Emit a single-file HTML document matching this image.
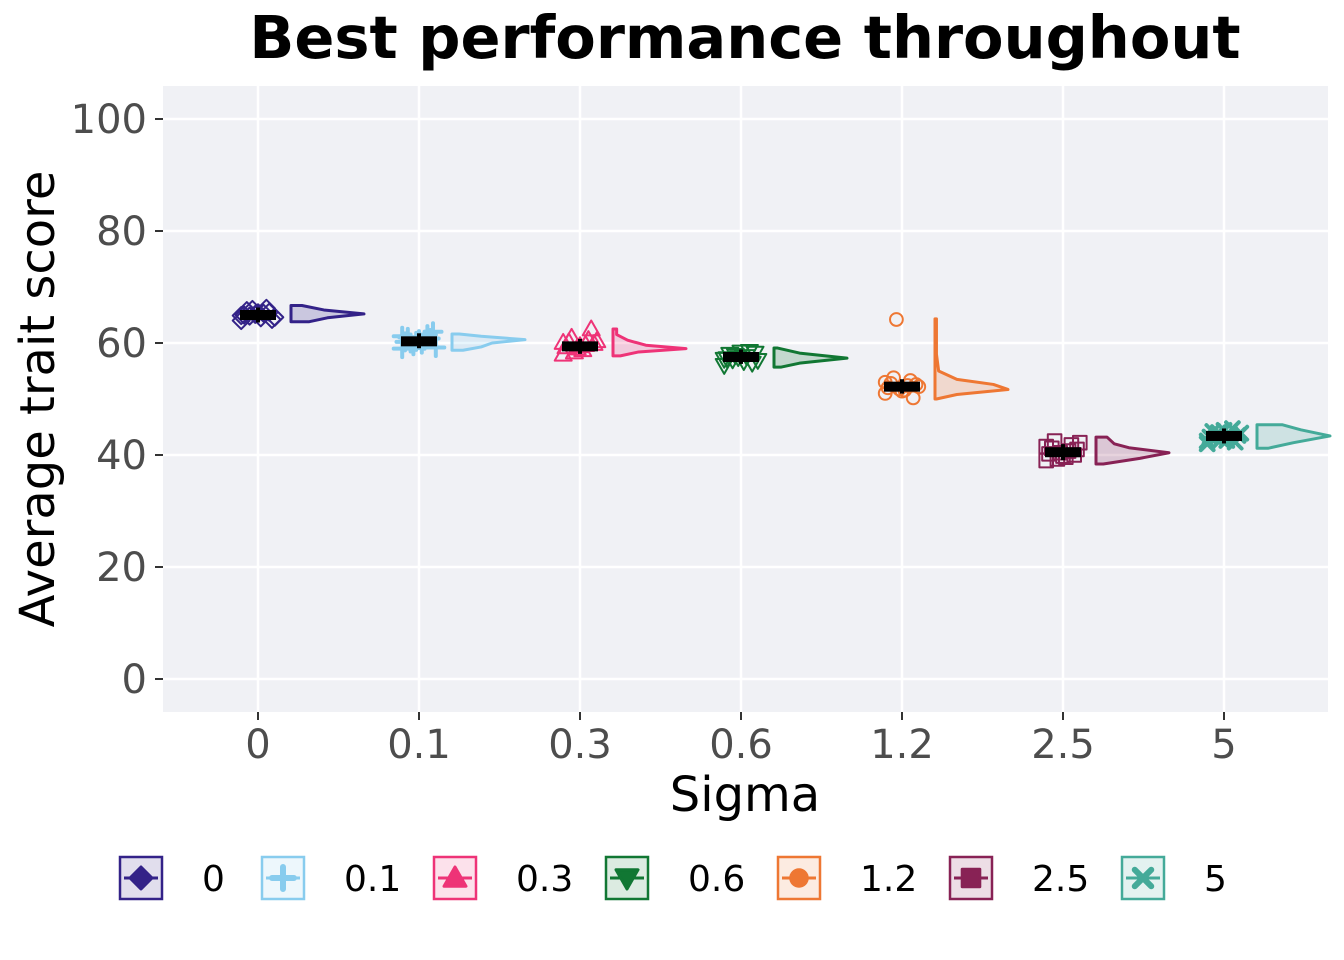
<!DOCTYPE html>
<html><head><meta charset="utf-8"><style>
body{margin:0;background:#fff;font-family:"DejaVu Sans","Liberation Sans",sans-serif}
svg{display:block}
</style></head><body>
<svg id="chart" width="1344" height="960" xmlns="http://www.w3.org/2000/svg">
<rect x="0" y="0" width="1344" height="960" fill="#fff"/>
<text x="745" y="58" text-anchor="middle" font-size="59" font-weight="bold" fill="#000" font-family="DejaVu Sans, Liberation Sans, sans-serif">Best performance throughout</text>
<rect x="163" y="86" width="1165" height="626" fill="#f0f1f5"/>
<g id="grid"></g>
<g id="marks"></g>
<g id="axes"></g>
<text x="745" y="811" text-anchor="middle" font-size="48" fill="#000" font-family="DejaVu Sans, Liberation Sans, sans-serif">Sigma</text>
<text transform="translate(54,399) rotate(-90)" text-anchor="middle" font-size="48" fill="#000" font-family="DejaVu Sans, Liberation Sans, sans-serif">Average trait score</text>
<g id="legend"></g>
</svg>
<script>
const categories=["0","0.1","0.3","0.6","1.2","2.5","5"];
const colors=["#332288","#88ccee","#ee3377","#117733","#ee7733","#882255","#44aa99"];
const shapes=["diamond","plus","tri","dtri","circle","square","x"];
const medians=[65,60.3,59.4,57.5,52.2,40.5,43.4];
const lows=[64.2,59.6,58.6,56.8,51.5,39.6,42.6];
const highs=[65.8,61.2,60.2,58.3,53,41.4,44.2];
const violins=[
 [[63.8,0.25],[64.5,0.5],[65.2,1],[65.9,0.45],[66.7,0.15]],
 [[58.7,0.15],[59.3,0.4],[60,0.55],[60.6,1],[61.2,0.4],[61.6,0.1]],
 [[57.7,0.1],[58.4,0.35],[59,1],[59.6,0.45],[60.5,0.2],[61.5,0.05],[62.5,0.05]],
 [[55.7,0.1],[56.4,0.35],[57.3,1],[58.2,0.35],[59.1,0.05]],
 [[50,0.02],[50.8,0.3],[51.7,1],[52.6,0.8],[53.5,0.3],[55,0.05],[58,0.02],[61,0.02],[64.3,0.02]],
 [[38.4,0.1],[39.4,0.6],[40.4,1],[41.3,0.45],[42,0.25],[42.6,0.2],[43.2,0.15]],
 [[41.2,0.15],[42.2,0.5],[43.4,1],[44.5,0.6],[45.4,0.35]]
];
const points=[
 [64,64.5,65,65.3,65.8,66.2,64.8,65.5,66,64.2,65.1,64.6,65.4,64.9],
 [59,59.8,60.2,60.5,61,61.5,60,60.8,59.5,62,60.3,59.2,60.6,61.2],
 [58,58.8,59.3,59.7,60.2,60.6,61,62.5,58.4,59.9,59.1,60.4,59.5,60.1],
 [56,56.7,57.2,57.6,58,58.5,57,56.4,57.8,58.2,57.4,56.9,58.4,57.1],
 [51,51.6,52,52.4,52.8,53.3,53.8,50.2,64.2,52.6,51.8,52.2,51.4,53],
 [39,39.6,40.2,40.7,41.2,41.8,42.5,40,39.3,41,40.4,42.2,39.8,41.5],
 [42,42.6,43.2,43.7,44.2,44.7,43,42.3,44,43.5,42.8,43.9,44.4,42.5]
];
const yTicks=[0,20,40,60,80,100];
const NS="http://www.w3.org/2000/svg";
const y=v=>679-v*5.6;
const x=i=>258+i*161;
function mk(p,t,a){const e=document.createElementNS(NS,t);for(const k in a)e.setAttribute(k,a[k]);p.appendChild(e);return e;}
function shape(p,s,cx,cy,r,col,fill,sw){
 let d;
 if(s==="diamond")d=`M${cx},${cy-r}L${cx+r},${cy}L${cx},${cy+r}L${cx-r},${cy}Z`;
 else if(s==="plus")d=`M${cx-r},${cy}H${cx+r}M${cx},${cy-r}V${cy+r}`;
 else if(s==="tri")d=`M${cx},${cy-r}L${cx+r},${cy+r*0.75}L${cx-r},${cy+r*0.75}Z`;
 else if(s==="dtri")d=`M${cx},${cy+r}L${cx+r},${cy-r*0.75}L${cx-r},${cy-r*0.75}Z`;
 else if(s==="square")d=`M${cx-r*0.8},${cy-r*0.8}h${r*1.6}v${r*1.6}h${-r*1.6}Z`;
 else if(s==="x")d=`M${cx-r*0.75},${cy-r*0.75}L${cx+r*0.75},${cy+r*0.75}M${cx+r*0.75},${cy-r*0.75}L${cx-r*0.75},${cy+r*0.75}`;
 else return mk(p,'circle',{cx:cx,cy:cy,r:r*0.75,fill:fill,stroke:col,'stroke-width':sw});
 return mk(p,'path',{d:d,fill:(s==="plus"||s==="x")?'none':fill,stroke:col,'stroke-width':(s==="plus"||s==="x")?sw*2:sw,'stroke-linejoin':'round','stroke-linecap':'round'});
}
const grid=document.getElementById('grid'),marks=document.getElementById('marks'),axes=document.getElementById('axes'),legend=document.getElementById('legend');
yTicks.forEach(t=>{
 const l=mk(grid,'line',{x1:163,x2:1328,y1:y(t),y2:y(t),stroke:'#fff','stroke-width':2.5});
 
 
 const tk=mk(axes,'line',{x1:155,x2:163,y1:y(t),y2:y(t),stroke:'#333','stroke-width':2});
 
 
 const tx=mk(axes,'text',{x:147,y:y(t)+14,'text-anchor':'end','font-size':40,fill:'#4d4d4d','font-family':'DejaVu Sans, Liberation Sans, sans-serif'});
 tx.textContent=t;
 
 
});
const legX=[120,262,434,606,778,950,1122];
categories.forEach((c,i)=>{
 const l=mk(grid,'line',{x1:x(i),x2:x(i),y1:86,y2:712,stroke:'#fff','stroke-width':2.5});
 
 
 const tk=mk(axes,'line',{x1:x(i),x2:x(i),y1:712,y2:720,stroke:'#333','stroke-width':2});
 
 
 const tx=mk(axes,'text',{x:x(i),y:758,'text-anchor':'middle','font-size':40,fill:'#4d4d4d','font-family':'DejaVu Sans, Liberation Sans, sans-serif'});
 tx.textContent=c;
 
 
 const col=colors[i];
 const v=violins[i],x0=x(i)+33,W=73;
 let d='M'+x0+','+y(v[0][0]);
 v.forEach(p=>{d+=' L'+(x0+p[1]*W)+','+y(p[0]);});
 d+=' L'+x0+','+y(v[v.length-1][0])+' Z';
 const vp=mk(marks,'path',{d:d,fill:col,'fill-opacity':0.2,stroke:col,'stroke-width':3,'stroke-linejoin':'round'});
 
 
 points[i].forEach((pv,j)=>{
  const px=x(i)+((j*7)%13-6)*2.8;
  const pt=shape(marks,shapes[i],px,y(pv),8.5,col,'none',2);
  
  
 });
 const cb=mk(marks,'rect',{x:x(i)-18,y:y(medians[i])-5,width:36,height:10,fill:'#000'});
 
 
 const eb=mk(marks,'line',{x1:x(i),x2:x(i),y1:y(highs[i])-3,y2:y(lows[i])+3,stroke:'#000','stroke-width':4});
 
 
 const lx=legX[i];
 const g=mk(legend,'g',{});
 
 
 mk(g,'rect',{x:lx,y:857,width:42,height:42,fill:col,'fill-opacity':0.15,stroke:col,'stroke-width':2.5});
 mk(g,'line',{x1:lx+4,x2:lx+38,y1:878,y2:878,stroke:col,'stroke-width':3});
 shape(g,shapes[i],lx+21,878,11,col,col,3);
 const lt=mk(g,'text',{x:lx+82,y:891,'font-size':36,fill:'#000','font-family':'DejaVu Sans, Liberation Sans, sans-serif'});
 lt.textContent=c;
});
</script>
</body></html>
